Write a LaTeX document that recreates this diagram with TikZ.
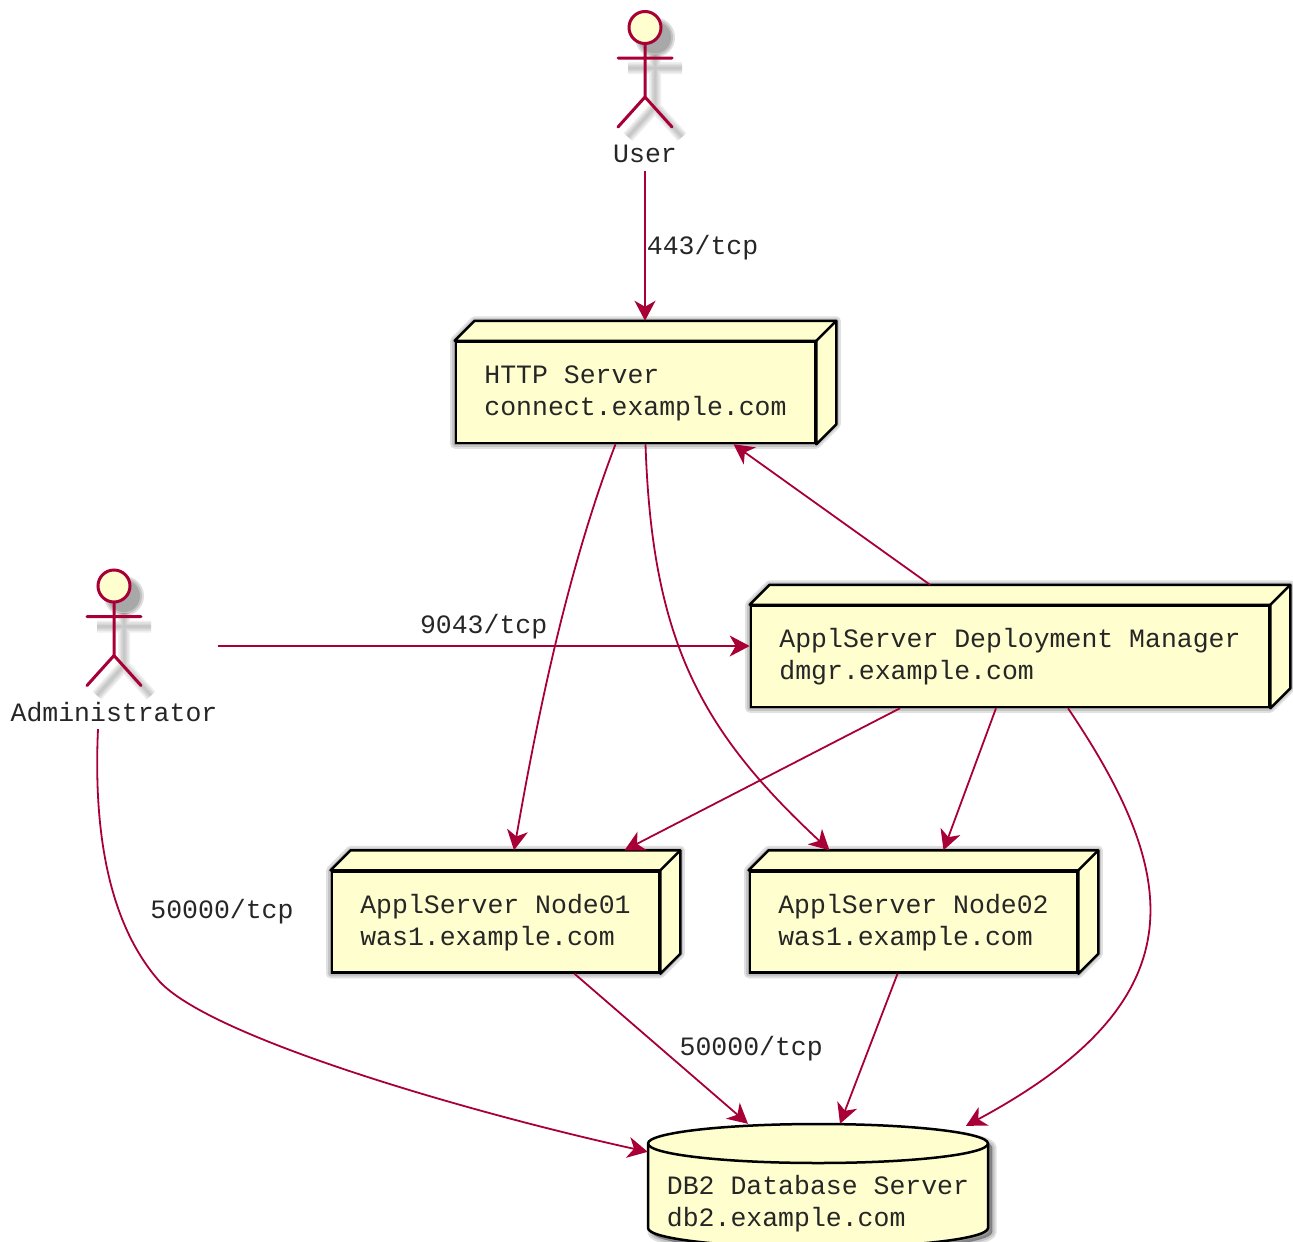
\documentclass[tikz,border=0pt]{standalone}
\usepackage{fontspec}
\setmainfont{Liberation Mono}
\definecolor{crimson}{HTML}{A80036}
\definecolor{cream}{HTML}{FEFECE}
\usetikzlibrary{calc}
\usetikzlibrary{positioning, backgrounds}
\usetikzlibrary{arrows.meta}
\begin{document}
\begin{tikzpicture}[x=1pt, y=-1pt, on grid,
			textStyle/.style={font=\fontsize{26.5}{32}\selectfont, text=black!85},
			server/.style={textStyle, draw=black, fill=cream, line width=2.5pt, align=left, inner xsep=28.5pt, inner ysep=0pt, minimum height=101pt, text height=52pt},
			database/.style={textStyle, align=left, inner xsep=19pt, inner ysep=0pt, minimum height=80pt},
			actor/.style={textStyle, inner xsep=0pt, inner ysep=0pt, text height=158pt, text depth=8pt},
			linkText/.style={textStyle, inner sep=0pt},
			link/.style={crimson, line width=1.8pt, -{Stealth[length=20pt, width=21pt, inset=6pt]}},
			stick/.style={crimson, line width=3pt, line cap=round},
			shade/.style={black, opacity=0.12},
			haze/.style={black, opacity=0.06},]

			\path[use as bounding box, clip] (0,0) rectangle (1293,1242);

			\node[server] (http) at (635.5,392.5) {HTTP Server\\connect.example.com};
			\node[server, below right=264pt and 374.5pt of http] (dmgr) {ApplServer Deployment Manager\\dmgr.example.com};
			\node[server, below left=265.5pt and 514.5pt of dmgr] (node1) {ApplServer Node01\\was1.example.com};
			\node[server, right=418pt of node1] (node2) {ApplServer Node02\\was1.example.com};
			\node[database] (db) at (818,1204) {DB2 Database Server\\db2.example.com};

			\node[actor] (user) at (645,87.5) {User};
			\node[actor] (admin) at (114,646) {Administrator};

			\begin{pgfonlayer}{background}
				% box faces and shadows
				\foreach \value in {http,dmgr,node1,node2} {
					\foreach \w in {9,5,1}
					\draw[shade, fill, line width=\w pt, line join=round, shift={(4,4)}]
						(\value.south west) -- (\value.south east) -- ++(20,-20) -- ([xshift=20pt,yshift=20pt]\value.north east)
						-- ([xshift=20pt,yshift=20pt]\value.north west) -- (\value.north west) -- cycle;
					\draw[draw=black, fill=cream, line width=2.5pt, line join=round]
						(\value.north west) -- ([xshift=20pt,yshift=20pt]\value.north west)
						-- ([xshift=20pt,yshift=20pt]\value.north east) -- ([xshift=20pt,yshift=20pt]\value.south east)
						-- (\value.south east) -- (\value.north east) -- cycle;
					\draw[black, line width=2.5pt] (\value.north east) -- ([xshift=20pt,yshift=20pt]\value.north east);
				}
				% cylinder
				\foreach \w in {9,5,1}
				\draw[shade, fill, line width=\w pt, shift={(4,4)}] (648,1143.5) arc[start angle=180, end angle=0, x radius=170, y radius=-19.5] -- (988,1228) arc[start angle=0, end angle=-180, x radius=170, y radius=-19.5] -- cycle;
				\draw[draw=black, fill=cream, line width=2.5pt] (648,1143.5) arc[start angle=180, end angle=0, x radius=170, y radius=-19.5] -- (988,1228) arc[start angle=0, end angle=-180, x radius=170, y radius=-19.5] -- cycle;
				\draw[black, line width=2.5pt] (648,1143.5) arc[start angle=180, end angle=360, x radius=170, y radius=-19.5];
			\end{pgfonlayer}

			% stick figures
			\foreach \value in {user,admin} {
				\begin{scope}[shift={(\value.center)}]
					\foreach \w in {12,9,6,3}
					\draw[haze, line width=\w pt, shift={(10,10)}] (0,-43) -- (0,9.5) (-27,-29.5) -- (27,-29.5) (-27,39.5) -- (0,9.5) -- (27,39.5);
					\foreach \w in {20,18,16}
					\fill[black, opacity=0.13, shift={(10,10)}] (0,-60) circle[radius=\w];
					\draw[stick] (0,-43) -- (0,9.5) (-27,-29.5) -- (27,-29.5) (-27,39.5) -- (0,9.5) -- (27,39.5);
					\draw[stick, fill=cream] (0,-60) circle[radius=16];
				\end{scope}
			}

			\draw[link] (user.south) -- node[linkText, anchor=west, xshift=1pt, yshift=-1.5pt] (port1) {443/tcp} ([yshift=20pt]http.north -| user.south);
			\draw[link] (admin.east) -- node[linkText, pos=0.5, yshift=19pt] (port2) {9043/tcp} (admin.east -| dmgr.west);
			\draw[link] ([xshift=-20pt]http.south) .. controls ([xshift=-70pt,yshift=-130pt]http.south) and (535,730) .. ([xshift=18.5pt,yshift=20pt]node1.north);
			\draw[link] ([xshift=10pt]http.south) .. controls (652,640) and (700,730) .. ([xshift=-84pt,yshift=20pt]node2.north);
			\draw[link] ([xshift=-80pt,yshift=20pt]dmgr.north) -- ([xshift=98pt]http.south);
			\draw[link] ([xshift=-110pt]dmgr.south) -- ([xshift=129pt,yshift=20pt]node1.north);
			\draw[link] ([xshift=-14pt]dmgr.south) -- ([xshift=30pt,yshift=20pt]node2.north);
			\draw[link] ([xshift=58pt]dmgr.south) .. controls (1182,877) and (1200,1000) .. ([xshift=148pt,yshift=38pt]db.north);
			\draw[link] ([xshift=79pt]node1.south) -- node[linkText, pos=0.5, xshift=90pt, yshift=0pt] (port3) {50000/tcp} ([xshift=-70pt,yshift=40pt]db.north);
			\draw[link] ([xshift=-16pt]node2.south) -- ([xshift=22pt,yshift=40pt]db.north);
			\draw[link] ([xshift=-16pt]admin.south) .. controls (92,860) and (120,937) .. (160,982) .. controls (215,1040) and (480,1115) .. ([yshift=12pt]db.north west);
			\node[linkText] (port4) at (222,912) {50000/tcp};
		\end{tikzpicture}
\end{document}
